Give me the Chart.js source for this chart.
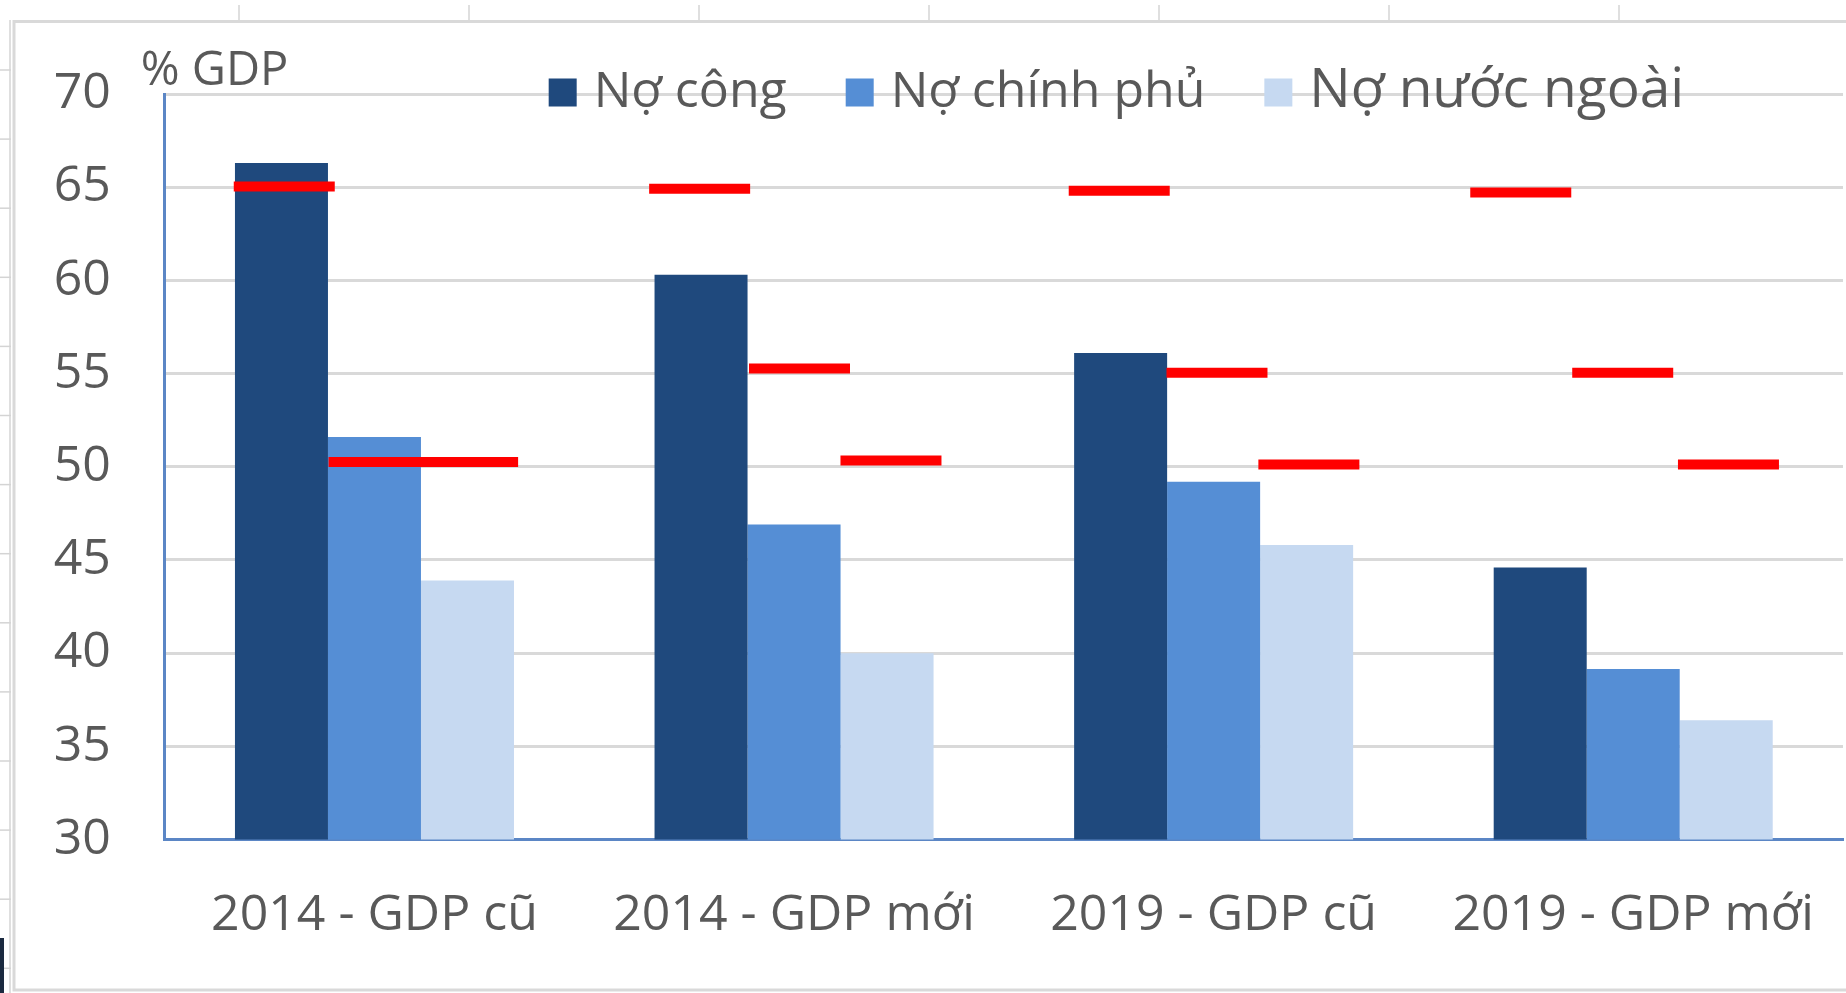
<!DOCTYPE html>
<html lang="vi">
<head>
<meta charset="utf-8">
<title>Nợ công, nợ chính phủ, nợ nước ngoài (% GDP)</title>
<script src="https://cdn.jsdelivr.net/npm/chart.js@4.4.1/dist/chart.umd.min.js"></script>
<style>
  html, body { margin: 0; padding: 0; background: #fff; }
  #chart { display: block; }
</style>
</head>
<body>
<canvas id="chart" width="1846" height="993"></canvas>
<script>
var categories = ["2014 - GDP cũ", "2014 - GDP mới", "2019 - GDP cũ", "2019 - GDP mới"];
var seriesNames = ["Nợ công", "Nợ chính phủ", "Nợ nước ngoài"];
var noCong = [66.3, 60.3, 56.1, 44.6];
var noChinhPhu = [51.6, 46.9, 49.2, 39.15];
var noNuocNgoai = [43.9, 40.0, 45.8, 36.4];

// red limit marks: value and x position (in category units, 0 = first group)
var limitCong = [65.04, 64.92, 64.81, 64.71];
var limitCongX = [-0.215, 0.775, 1.775, 2.732];
var limitChinhPhu = [50.25, 55.27, 55.05, 55.05];
var limitChinhPhuX = [0.011, 1.013, 2.008, 2.975];
var limitNuocNgoai = [50.25, 50.34, 50.12, 50.12];
var limitNuocNgoaiX = [0.222, 1.231, 2.227, 3.227];

var yTicks = [30, 35, 40, 45, 50, 55, 60, 65, 70];
var axisTitle = "% GDP";

var textColor = "#595959";
var fontName = "'Open Sans', 'Liberation Sans', sans-serif";

function toPoints(xs, ys) {
    return xs.map(function (x, i) { return { x: x, y: ys[i] }; });
}

// bars sit on the same linear x axis as the marks, one unit per category
function barSet(label, values, color) {
    return {
        type: "bar",
        label: label,
        data: toPoints(categories.map(function (c, i) { return i; }), values),
        backgroundColor: color,
        order: 1
    };
}

function limitSet(xs, ys) {
    return {
        type: "line",
        data: toPoints(xs, ys),
        showLine: false,
        grouped: false,
        order: 0,
        pointStyle: "line",
        pointRadius: 50.5,
        pointHoverRadius: 50.5,
        pointBorderWidth: 10,
        pointHoverBorderWidth: 10,
        borderColor: "#ff0000",
        backgroundColor: "#ff0000",
        pointBorderColor: "#ff0000",
        pointBackgroundColor: "#ff0000"
    };
}

// sheet frame behind the chart (cell borders of the spreadsheet)
var sheetFrame = {
    id: "sheetFrame",
    beforeDraw: function (chart) {
        var ctx = chart.ctx;
        ctx.save();
        ctx.fillStyle = "#fff";
        ctx.fillRect(0, 0, chart.width, chart.height);
        ctx.strokeStyle = "#d4d4d4";
        ctx.lineWidth = 1.5;
        for (var k = 0; k < 7; k++) {
            var cx = 239 + k * 230;
            ctx.beginPath(); ctx.moveTo(cx, 5); ctx.lineTo(cx, 20); ctx.stroke();
        }
        for (var r = 0; r < 14; r++) {
            var ry = 70 + r * 69.1;
            ctx.beginPath(); ctx.moveTo(0, ry); ctx.lineTo(11, ry); ctx.stroke();
        }
        ctx.beginPath(); ctx.moveTo(10, 20); ctx.lineTo(10, chart.height); ctx.stroke();
        ctx.strokeStyle = "#d9d9d9";
        ctx.lineWidth = 3;
        ctx.beginPath();
        ctx.moveTo(chart.width, 21.5);
        ctx.lineTo(14, 21.5);
        ctx.lineTo(14, 990);
        ctx.lineTo(chart.width, 990);
        ctx.stroke();
        ctx.fillStyle = "#1b2a40";
        ctx.fillRect(0, 938, 4, 55);
        ctx.restore();
    }
};

// legend and unit label drawn inside the plot, like the original
var legendBox = {
    id: "legendBox",
    afterDraw: function (chart) {
        var ctx = chart.ctx;
        var area = chart.chartArea;
        var sizes = [50, 50, 55];
        var x = area.left + 384;
        var base = 106.5;
        ctx.save();
        ctx.textBaseline = "alphabetic";
        ctx.textAlign = "left";
        chart.data.datasets.forEach(function (ds, i) {
            if (ds.type !== "bar") return;
            ctx.fillStyle = ds.backgroundColor;
            ctx.fillRect(x, base - 28, 28, 28);
            ctx.font = sizes[i] + "px " + fontName;
            ctx.fillStyle = textColor;
            ctx.fillText(ds.label, x + 45, base);
            x += 45 + ctx.measureText(ds.label).width + 59;
        });
        ctx.font = "47px " + fontName;
        ctx.fillText(axisTitle, area.left - 24, 85);
        ctx.restore();
    }
};

var ctx1 = document.getElementById("chart").getContext("2d");
var chartData = {
    datasets: [
        barSet(seriesNames[0], noCong, "#1f497d"),
        barSet(seriesNames[1], noChinhPhu, "#558ed5"),
        barSet(seriesNames[2], noNuocNgoai, "#c6d9f1"),
        limitSet(limitCongX, limitCong),
        limitSet(limitChinhPhuX, limitChinhPhu),
        limitSet(limitNuocNgoaiX, limitNuocNgoai)
    ]
};

var myChart = new Chart(ctx1, {
    type: "bar",
    data: chartData,
    plugins: [sheetFrame, legendBox],
    options: {
        responsive: false,
        animation: false,
        events: [],
        layout: { autoPadding: false, padding: { left: 0, top: 94, right: 3, bottom: 1.7 } },
        datasets: { bar: { categoryPercentage: 0.665, barPercentage: 1 } },
        plugins: {
            legend: { display: false },
            tooltip: { enabled: false },
            title: { display: false }
        },
        scales: {
            x: {
                type: "linear",
                min: -0.5,
                max: 3.5,
                offset: false,
                z: 1,
                grid: { display: false, drawTicks: false },
                border: { display: true, color: "#5b86c5", width: 3 },
                afterBuildTicks: function (scale) {
                    scale.ticks = categories.map(function (c, i) { return { value: i }; });
                },
                ticks: {
                    autoSkip: false,
                    maxRotation: 0,
                    color: textColor,
                    padding: 10,
                    // tall line box keeps the labels low without a big side padding
                    font: { family: fontName, size: 50, lineHeight: 2.636 },
                    callback: function (value) { return categories[value]; }
                }
            },
            y: {
                min: yTicks[0],
                max: yTicks[yTicks.length - 1],
                ticks: {
                    stepSize: yTicks[1] - yTicks[0],
                    color: textColor,
                    padding: 53.75,
                    font: { family: fontName, size: 50 }
                },
                grid: { color: "#d9d9d9", lineWidth: 3, drawTicks: false },
                border: { color: "#5b86c5", width: 3 }
            }
        }
    }
});
</script>
</body>
</html>
